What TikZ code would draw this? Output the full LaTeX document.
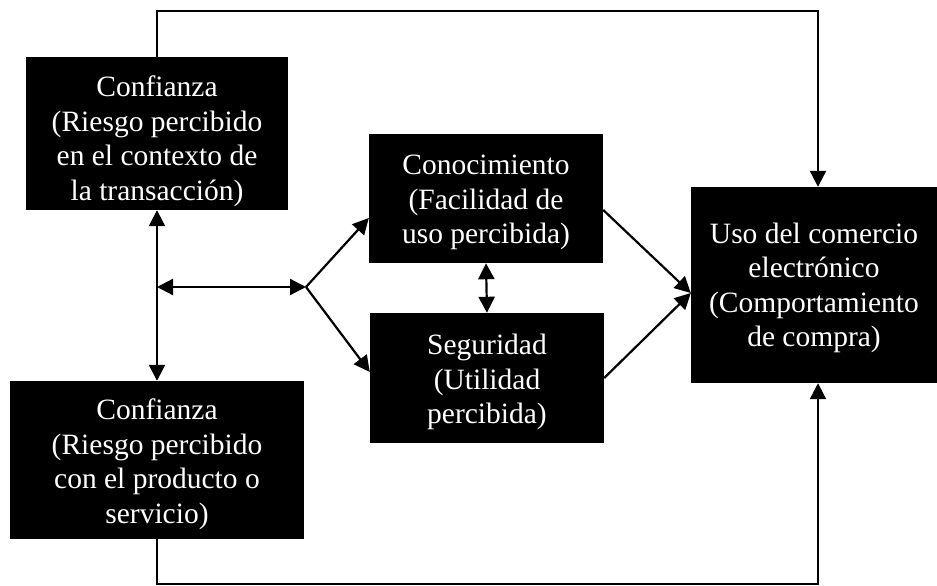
\documentclass[tikz,border=0pt]{standalone}
\usepackage{fontspec}
\setmainfont{Liberation Serif}
\usetikzlibrary{arrows.meta}
\tikzset{
  blk/.style={fill=black, inner sep=0pt},
  txt/.style={text=white, align=center, inner sep=0pt,
    font=\fontsize{29.5}{34.5}\selectfont},
  conn/.style={line width=2.2pt},
  tip/.tip={Triangle[length=16pt,width=16pt]},
  arr/.style={conn, -tip},
  dbl/.style={conn, tip-tip}
}
\begin{document}
\begin{tikzpicture}[x=1pt,y=-1pt]
\useasboundingbox (0,0) rectangle (937,586);
\node[blk, minimum width=262pt, minimum height=153pt] (A) at (157,133.5) {};
\node[blk, minimum width=234pt, minimum height=129pt] (B) at (486,198.5) {};
\node[blk, minimum width=234pt, minimum height=130pt] (C) at (487,378) {};
\node[blk, minimum width=246pt, minimum height=196pt] (D) at (814,285) {};
\node[blk, minimum width=294pt, minimum height=158pt] (E) at (157,460) {};
\node[txt] (At) at ([yshift=-8pt]A.center)
  {Confianza\\(Riesgo percibido\\en el contexto de\\la transacción)};
\node[txt] (Bt) at ([yshift=-4pt]B.center)
  {Conocimiento\\(Facilidad de\\uso percibida)};
\node[txt] (Ct) at ([yshift=-4pt]C.center)
  {Seguridad\\(Utilidad\\percibida)};
\node[txt] (Dt) at ([yshift=-3pt]D.center)
  {Uso del comercio\\electrónico\\(Comportamiento\\de compra)};
\node[txt] (Et) at ([yshift=-4pt]E.center)
  {Confianza\\(Riesgo percibido\\con el producto o\\servicio)};
\coordinate (tr) at (818,11);
\coordinate (br) at (818,584);
\coordinate (j) at (157,287);
\coordinate (f) at (306,287);
\draw[arr] (A.north) |- (tr) -- (tr |- D.north);
\draw[arr] (E.south) |- (br) -- (br |- D.south);
\draw[dbl] (A.south) -- (E.north);
\draw[dbl] (j) -- (f);
\draw[arr] (f) -- ([yshift=-19.5pt]B.west);
\draw[arr] (f) -- ([yshift=6pt]C.west);
\draw[dbl] (B.south) -- (C.north);
\draw[arr] ([yshift=-11.5pt]B.east) -- ([yshift=-8pt]D.west);
\draw[arr] (C.east) -- ([yshift=-8pt]D.west);
\end{tikzpicture}
\end{document}
